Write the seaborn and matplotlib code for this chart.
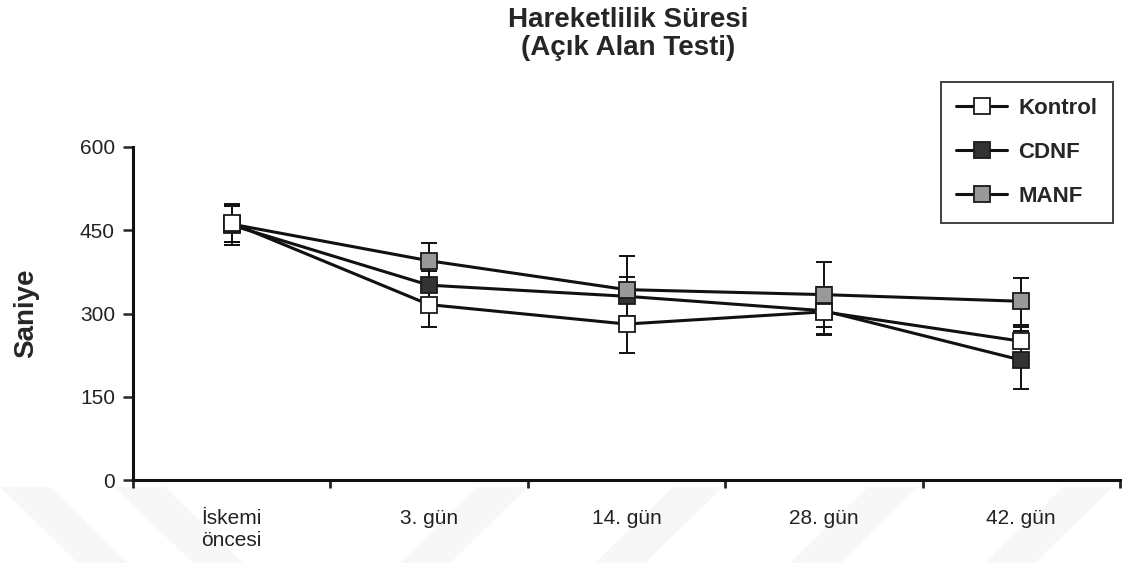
import numpy as np
import pandas as pd
import matplotlib
matplotlib.use("Agg")
import matplotlib.pyplot as plt
from matplotlib.patches import Polygon
import seaborn as sns

# Data
categories = ["İskemi\nöncesi", "3. gün", "14. gün", "28. gün", "42. gün"]
kontrol = [463, 316, 281, 303, 250]
kontrol_err = [34, 40, 52, 40, 25]
cdnf = [459, 351, 331, 305, 216]
cdnf_err = [35, 25, 35, 43, 52]
manf = [461, 395, 343, 334, 322]
manf_err = [33, 32, 60, 58, 42]

y_ticks = [0, 150, 300, 450, 600]


def main():
    sns.set_style("ticks")
    plt.rcParams['font.family'] = ['Liberation Sans', 'DejaVu Sans']

    W, H = 1122, 563
    fig = plt.figure(figsize=(W / 100, H / 100), dpi=100)
    fig.patch.set_facecolor("white")

    # faint diagonal watermark bands at the bottom of the page
    bands = [(0, 1), (115, 1), (400, -1), (595, -1), (790, -1), (985, -1)]
    for xb, d in bands:
        if d == 1:
            pts = [(xb, 487), (xb + 50, 487), (xb + 128, 563), (xb + 78, 563)]
        else:
            pts = [(xb + 78, 487), (xb + 128, 487), (xb + 50, 563), (xb, 563)]
        pts = [(px / W, 1 - py / H) for px, py in pts]
        fig.add_artist(Polygon(pts, closed=True, transform=fig.transFigure,
                               facecolor="#f7f7f7", edgecolor="none", zorder=0))

    ax = fig.add_axes([133 / W, 1 - 480 / H, (1120 - 133) / W, (480 - 147) / H])
    ax.set_facecolor("none")

    pos = np.arange(len(categories))
    series = [
        ("Kontrol", kontrol, kontrol_err, "white", 6),
        ("CDNF", cdnf, cdnf_err, "#333333", 4),
        ("MANF", manf, manf_err, "#999999", 5),
    ]

    # error bars underneath everything
    for name, vals, errs, fc, z in series:
        ax.errorbar(pos, vals, yerr=errs, fmt="none", ecolor="#111111",
                    elinewidth=1.4, capsize=6, capthick=1.4, zorder=2)

    for name, vals, errs, fc, z in series:
        df = pd.DataFrame({"pos": pos, "value": vals})
        sns.lineplot(data=df, x="pos", y="value", ax=ax, color="#111111",
                     linewidth=2.2, marker="s", markersize=12,
                     markerfacecolor=fc, markeredgecolor="#1a1a1a",
                     markeredgewidth=1.3, zorder=z, label=name)

    ax.set_xlim(-0.5, len(categories) - 0.5)
    ax.set_ylim(0, 600)
    ax.set_yticks(y_ticks)
    ax.set_xticks(pos)
    ax.set_xticklabels(categories)
    ax.set_xticks(np.arange(-0.5, len(categories), 1.0), minor=True)
    ax.tick_params(axis="x", which="major", length=0, pad=21, labelsize=15)
    ax.tick_params(axis="x", which="minor", length=6, width=2, direction="out")
    ax.tick_params(axis="y", length=7, width=1.8, pad=6, labelsize=15,
                   direction="out")
    for lab in ax.get_yticklabels() + ax.get_xticklabels():
        lab.set_color("#222222")
    sns.despine(ax=ax)
    for side in ("left", "bottom"):
        ax.spines[side].set_linewidth(2.2)
        ax.spines[side].set_color("#111111")
    ax.set_xlabel("")
    ax.set_ylabel("")

    fig.text(26 / W, 1 - 313 / H, "Saniye", rotation=90, ha="center",
             va="center", fontsize=20, fontweight="bold")
    fig.text(628 / W, 1 - 7 / H, "Hareketlilik Süresi\n(Açık Alan Testi)",
             ha="center", va="top", multialignment="center", fontsize=20,
             fontweight="bold", linespacing=1.12)

    handles, labels = ax.get_legend_handles_labels()
    order = [labels.index(n) for n in ("Kontrol", "CDNF", "MANF")]
    leg = ax.legend([handles[i] for i in order], [labels[i] for i in order],
                    loc="upper right", bbox_to_anchor=(1113 / W, 1 - 82 / H),
                    bbox_transform=fig.transFigure, borderaxespad=0,
                    frameon=True, fancybox=False, edgecolor="#111111",
                    prop={"weight": "bold", "size": 16}, handlelength=2.3,
                    handletextpad=0.5, labelspacing=1.05, borderpad=0.7)
    leg.get_frame().set_linewidth(1.4)

    fig.savefig("out.png", dpi=100)
    plt.close(fig)


if __name__ == "__main__":
    main()
